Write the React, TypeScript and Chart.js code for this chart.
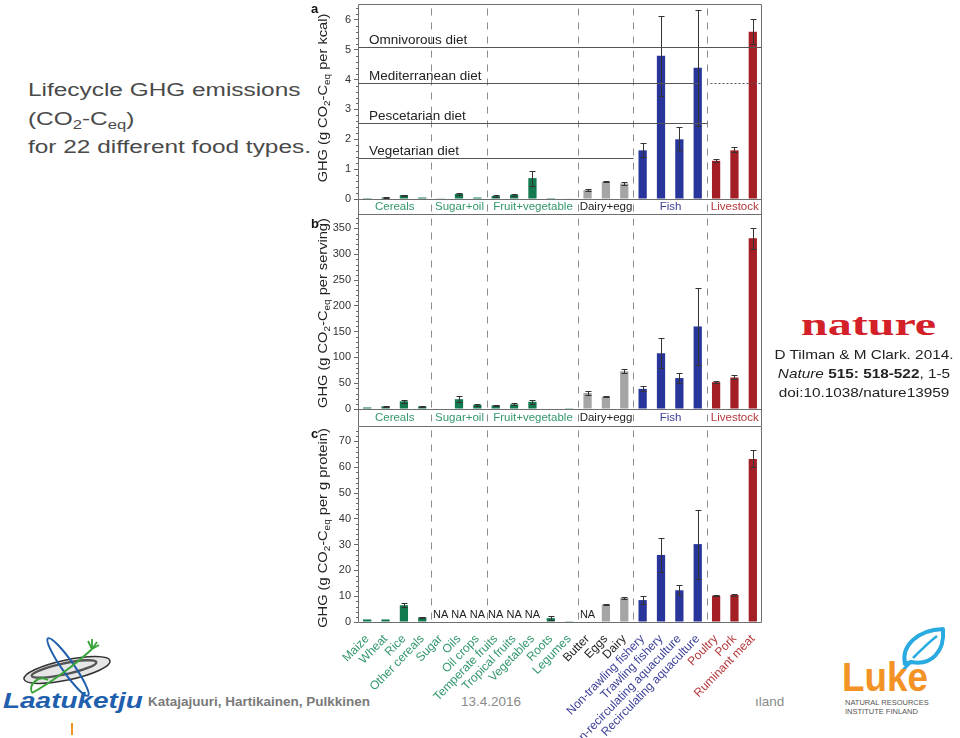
import React, { useEffect, useRef } from 'react';
import { Chart, registerables } from 'chart.js';

Chart.register(...registerables);

const FONT = "'Liberation Sans', Arial, Helvetica, sans-serif";

// ---------------- data ----------------
const FOODS = [
  'Maize', 'Wheat', 'Rice', 'Other cereals',
  'Sugar', 'Oils', 'Oil crops',
  'Temperate fruits', 'Tropical fruits', 'Vegetables', 'Roots', 'Legumes',
  'Butter', 'Eggs', 'Dairy',
  'Non-trawling fishery', 'Trawling fishery', 'Non-recirculating aquaculture', 'Recirculating aquaculture',
  'Poultry', 'Pork', 'Ruminant meat',
];
const GROUPS = ['Cereals', 'Sugar+oil', 'Fruit+vegetable', 'Dairy+egg', 'Fish', 'Livestock'];
const GROUP_SIZES = [4, 3, 5, 3, 4, 3];
const BAR_COLORS = ['#137a4f', '#137a4f', '#137a4f', '#a5a5a5', '#28359b', '#a41f25'];
const LABEL_COLORS = ['#33976b', '#33976b', '#33976b', '#222222', '#3c3f97', '#b3383b'];

// a: per kcal
const KCAL_VALUES = [0.03, 0.05, 0.13, 0.05, 0.01, 0.17, 0.05, 0.10, 0.14, 0.70, 0.03, 0.02, 0.30, 0.58, 0.52, 1.63, 4.80, 2.00, 4.40, 1.28, 1.63, 5.60];
const KCAL_LOW = [null, 0.04, 0.11, null, null, 0.14, null, 0.08, 0.11, 0.45, null, null, 0.27, 0.56, 0.47, 1.40, 3.45, 1.65, 2.45, 1.24, 1.57, 5.20];
const KCAL_HIGH = [null, 0.06, 0.15, null, null, 0.20, null, 0.12, 0.18, 0.95, null, null, 0.33, 0.61, 0.56, 1.88, 6.12, 2.40, 6.32, 1.33, 1.73, 6.03];
const KCAL_AXIS = [6.5, 1, 0.2]; // max, step, minor step

// b: per serving
const SERVING_VALUES = [3, 5, 15, 5, 1, 19, 8, 7, 9, 14, 1, 1.5, 31, 24, 73, 39, 108, 60, 160, 52, 61, 331];
const SERVING_LOW = [null, 4, 12, 4, null, 14, 6, 6, 7, 10, null, null, 27, 23, 70, 34, 80, 50, 85, 50, 58, 310];
const SERVING_HIGH = [null, 6, 17, 6, null, 25, 10, 8, 12, 18, null, null, 35, 25, 77, 45, 138, 70, 235, 54, 65, 351];
const SERVING_AXIS = [376, 50, 10];

// c: per g protein
const PROTEIN_VALUES = [1.0, 1.0, 6.5, 1.8, null, null, null, null, null, null, 1.5, 0.3, null, 6.8, 9.3, 8.5, 26.0, 12.3, 30.2, 10.2, 10.5, 63.2];
const PROTEIN_LOW = [null, null, 5.7, 1.6, null, null, null, null, null, null, 0.9, null, null, 6.6, 9.1, 7.1, 19.3, 10.3, 16.6, 10.0, 10.0, 60.0];
const PROTEIN_HIGH = [null, null, 7.5, 2.0, null, null, null, null, null, null, 2.2, null, null, 7.0, 9.6, 10.1, 32.7, 14.5, 43.6, 10.5, 11.0, 66.5];
const PROTEIN_AXIS = [75.6, 10, 2];

// diet reference lines (panel a)
const DIET_NAMES = ['Omnivorous diet', 'Mediterranean diet', 'Pescetarian diet', 'Vegetarian diet'];
const DIET_VALUES = [5.1, 3.87, 2.55, 1.37];
const DIET_END_GROUP = [6, 5, 5, 4];
const DIET_DOTTED_REST = [false, true, false, false];

const FOOD_GROUP: number[] = [];
GROUP_SIZES.forEach((n, g) => { for (let i = 0; i < n; i++) FOOD_GROUP.push(g); });
const BOUNDS: number[] = [];
GROUP_SIZES.reduce((acc, n) => { BOUNDS.push(acc + n); return acc + n; }, 0);

type Spec = {
  values: (number | null)[];
  low: (number | null)[];
  high: (number | null)[];
  axis: number[];
  strip: number;
  showLabels: boolean;
  diets: boolean;
  na: boolean;
  padTop: number;
  padBottom: number;
  xHeight: number;
};

function makeDeco(spec: Spec) {
  return {
    id: 'deco',
    afterDatasetsDraw(chart: any) {
      const { ctx, chartArea: ca, scales } = chart;
      const x = scales.x;
      const y = scales.y;
      const slot = x.getPixelForValue(1) - x.getPixelForValue(0);
      const bx = (b: number) => Math.round(x.getPixelForValue(b) - slot / 2) + 0.5;
      const L = Math.round(ca.left) + 0.5;
      const R = Math.round(ca.right) - 0.5;
      const T = Math.round(ca.top) - 0.5;
      const B = Math.round(ca.bottom) + 0.5;
      const stripBottom = spec.strip ? chart.height : B;
      ctx.save();

      // separators
      ctx.strokeStyle = '#8c8c8c';
      ctx.lineWidth = 1;
      ctx.setLineDash([7, 7]);
      BOUNDS.slice(0, -1).forEach((b) => {
        const px = bx(b);
        ctx.beginPath();
        ctx.moveTo(px, T + 4);
        ctx.lineTo(px, stripBottom);
        ctx.stroke();
      });
      ctx.setLineDash([]);

      // frame
      ctx.strokeStyle = '#6e6e6e';
      ctx.beginPath();
      ctx.moveTo(L, stripBottom);
      ctx.lineTo(L, T);
      ctx.lineTo(R, T);
      ctx.lineTo(R, stripBottom);
      ctx.moveTo(L, B);
      ctx.lineTo(R, B);
      ctx.stroke();

      // minor ticks
      const [max, step, minor] = spec.axis;
      ctx.strokeStyle = '#666';
      for (let v = minor; v < max; v += minor) {
        const r = v / step;
        if (Math.abs(r - Math.round(r)) < 1e-6) continue;
        const py = Math.round(y.getPixelForValue(v)) + 0.5;
        ctx.beginPath();
        ctx.moveTo(L - 2.5, py);
        ctx.lineTo(L, py);
        ctx.stroke();
      }

      // group labels in strip
      if (spec.strip) {
        ctx.font = `11.5px ${FONT}`;
        ctx.textAlign = 'center';
        ctx.textBaseline = 'middle';
        let start = 0;
        GROUPS.forEach((g, gi) => {
          const end = BOUNDS[gi];
          const x0 = gi === 0 ? ca.left : bx(start);
          const x1 = gi === GROUPS.length - 1 ? ca.right : bx(end);
          ctx.fillStyle = LABEL_COLORS[gi];
          ctx.fillText(g, (x0 + x1) / 2, ca.bottom + spec.strip / 2 + 0.5);
          start = end;
        });
      }

      // error bars
      ctx.strokeStyle = '#333';
      ctx.lineWidth = 1;
      spec.values.forEach((v, i) => {
        const lo = spec.low[i];
        const hi = spec.high[i];
        if (lo == null || hi == null) return;
        const px = Math.round(x.getPixelForValue(i)) + 0.5;
        const y1 = Math.round(y.getPixelForValue(lo)) + 0.5;
        const y2 = Math.round(y.getPixelForValue(hi)) + 0.5;
        ctx.beginPath();
        ctx.moveTo(px, y1);
        ctx.lineTo(px, y2);
        ctx.moveTo(px - 3, y1);
        ctx.lineTo(px + 3, y1);
        ctx.moveTo(px - 3, y2);
        ctx.lineTo(px + 3, y2);
        ctx.stroke();
      });

      // diet lines
      if (spec.diets) {
        ctx.font = `13.5px ${FONT}`;
        ctx.textAlign = 'left';
        ctx.textBaseline = 'alphabetic';
        DIET_NAMES.forEach((name, i) => {
          const py = Math.round(y.getPixelForValue(DIET_VALUES[i])) + 0.5;
          const gEnd = DIET_END_GROUP[i];
          let xEnd = gEnd >= GROUPS.length ? R : bx(BOUNDS[gEnd - 1]);
          if (DIET_DOTTED_REST[i]) xEnd -= 9;
          ctx.strokeStyle = '#555';
          ctx.lineWidth = 1.2;
          ctx.beginPath();
          ctx.moveTo(L, py);
          ctx.lineTo(xEnd, py);
          ctx.stroke();
          if (DIET_DOTTED_REST[i]) {
            ctx.setLineDash([2, 2]);
            ctx.lineWidth = 1;
            ctx.beginPath();
            ctx.moveTo(bx(BOUNDS[gEnd - 1]) + 3, py);
            ctx.lineTo(R, py);
            ctx.stroke();
            ctx.setLineDash([]);
          }
          ctx.fillStyle = '#222';
          ctx.fillText(name, ca.left + 11, py - 4);
        });
      }

      // NA labels
      if (spec.na) {
        ctx.font = `11px ${FONT}`;
        ctx.textAlign = 'center';
        ctx.textBaseline = 'alphabetic';
        ctx.fillStyle = '#222';
        spec.values.forEach((v, i) => {
          if (v != null) return;
          ctx.fillText('NA', x.getPixelForValue(i), ca.bottom - 4);
        });
      }
      ctx.restore();
    },
  };
}

function buildConfig(spec: Spec): any {
  const [max, step] = spec.axis;
  return {
    type: 'bar',
    data: {
      labels: FOODS,
      datasets: [{
        data: spec.values,
        backgroundColor: FOOD_GROUP.map((g) => BAR_COLORS[g]),
        borderWidth: 0,
        barPercentage: 0.45,
        categoryPercentage: 1,
      }],
    },
    options: {
      animation: false,
      responsive: false,
      maintainAspectRatio: false,
      layout: { padding: { left: 0, right: 8, top: spec.padTop, bottom: spec.padBottom } },
      plugins: { legend: { display: false }, tooltip: { enabled: false } },
      scales: {
        x: {
          type: 'category',
          offset: true,
          display: spec.showLabels,
          grid: { display: false },
          border: { display: false },
          ticks: {
            autoSkip: false,
            minRotation: 46,
            maxRotation: 46,
            padding: 2,
            font: { family: FONT, size: 12 },
            color: (c: any) => LABEL_COLORS[FOOD_GROUP[c.index]],
          },
          afterFit: (s: any) => { s.height = spec.xHeight; s.paddingLeft = 0; s.paddingRight = 0; },
        },
        y: {
          min: 0,
          max,
          grid: { display: true, drawOnChartArea: false, drawTicks: true, tickLength: 4, color: '#666' },
          border: { display: false },
          ticks: { stepSize: step, includeBounds: false, padding: 3, color: '#333', font: { family: FONT, size: 11 } },
          afterFit: (s: any) => { s.width = 58; s.paddingTop = 0; s.paddingBottom = 0; },
        },
      },
    },
    plugins: [makeDeco(spec)],
  };
}

const SPEC_A: Spec = { values: KCAL_VALUES, low: KCAL_LOW, high: KCAL_HIGH, axis: KCAL_AXIS, strip: 15, showLabels: false, diets: true, na: false, padTop: 5, padBottom: 16, xHeight: 0 };
const SPEC_B: Spec = { values: SERVING_VALUES, low: SERVING_LOW, high: SERVING_HIGH, axis: SERVING_AXIS, strip: 17, showLabels: false, diets: false, na: false, padTop: 1, padBottom: 17, xHeight: 0 };
const SPEC_C: Spec = { values: PROTEIN_VALUES, low: PROTEIN_LOW, high: PROTEIN_HIGH, axis: PROTEIN_AXIS, strip: 0, showLabels: true, diets: false, na: true, padTop: 1, padBottom: 0, xHeight: 116 };

function Panel({ spec, top, height }: { spec: Spec; top: number; height: number }) {
  const ref = useRef<HTMLCanvasElement>(null);
  useEffect(() => {
    const chart = new Chart(ref.current as HTMLCanvasElement, buildConfig(spec));
    return () => chart.destroy();
  }, []);
  return <canvas ref={ref} width={470} height={height} style={{ position: 'absolute', left: 300, top, width: 470, height }} />;
}

const subStyle: React.CSSProperties = { fontSize: '68%', verticalAlign: '-0.32em', lineHeight: 0 };

function YTitle({ unit, cy }: { unit: string; cy: number }) {
  return (
    <div style={{
      position: 'absolute', left: 323, top: cy, transform: 'translate(-50%, -50%) rotate(-90deg) scaleX(1.17)',
      whiteSpace: 'nowrap', fontFamily: FONT, fontSize: 12.5, color: '#222', lineHeight: '14px',
    }}>
      GHG (g CO<sub style={subStyle}>2</sub>-C<sub style={subStyle}>eq</sub> {unit})
    </div>
  );
}

function Letter({ ch, top }: { ch: string; top: number }) {
  return <div style={{ position: 'absolute', left: 311, top, fontFamily: FONT, fontWeight: 'bold', fontSize: 13, lineHeight: '13px', color: '#111' }}>{ch}</div>;
}

export default function App() {
  return (
    <div style={{ position: 'absolute', left: 0, top: 0, width: 960, height: 738, overflow: 'hidden', background: '#fff' }}>
      {/* slide title */}
      <div style={{
        position: 'absolute', left: 28, top: 76, fontFamily: FONT, fontSize: 18, lineHeight: '28.5px',
        color: '#4a4a4a', transform: 'scaleX(1.355)', transformOrigin: '0 0', whiteSpace: 'nowrap',
      }}>
        Lifecycle GHG emissions<br />(CO<sub style={subStyle}>2</sub>-C<sub style={subStyle}>eq</sub>)<br />for 22 different food types.
      </div>

      {/* footer text (behind chart) */}
      <div style={{ position: 'absolute', left: 148, top: 695, fontFamily: FONT, fontWeight: 'bold', fontSize: 13.5, lineHeight: '13.5px', color: '#7a7a7a', whiteSpace: 'nowrap' }}>
        Katajajuuri, Hartikainen, Pulkkinen
      </div>
      <div style={{ position: 'absolute', left: 461, top: 695, fontFamily: FONT, fontSize: 13.5, lineHeight: '13.5px', color: '#8a8a8a' }}>13.4.2016</div>
      <div style={{ position: 'absolute', left: 755, top: 695, fontFamily: FONT, fontSize: 13.5, lineHeight: '13.5px', color: '#8a8a8a' }}>ıland</div>

      {/* charts */}
      <Panel spec={SPEC_A} top={0} height={215} />
      <Panel spec={SPEC_B} top={214} height={212} />
      <Panel spec={SPEC_C} top={426} height={312} />

      <Letter ch="a" top={2} />
      <Letter ch="b" top={217} />
      <Letter ch="c" top={427} />
      <YTitle unit="per kcal" cy={98} />
      <YTitle unit="per serving" cy={313} />
      <YTitle unit="per g protein" cy={528} />

      {/* nature citation */}
      <div style={{ position: 'absolute', left: 801, top: 308, fontFamily: "'Liberation Serif', 'Times New Roman', serif", fontWeight: 'bold', fontSize: 32, lineHeight: '32px', color: '#d42029', transform: 'scaleX(1.5)', transformOrigin: '0 0' }}>nature</div>
      <div style={{
        position: 'absolute', left: 764, top: 345, width: 200, textAlign: 'center', fontFamily: FONT, fontSize: 13,
        lineHeight: '19px', color: '#222', transform: 'scaleX(1.18)', transformOrigin: '50% 0', whiteSpace: 'nowrap',
      }}>
        D Tilman &amp; M Clark. 2014.<br />
        <i>Nature</i> <b>515: 518-522</b>, 1-5<br />
        doi:10.1038/nature13959
      </div>

      {/* Laatuketju logo */}
      <svg style={{ position: 'absolute', left: 0, top: 625 }} width={150} height={115}>
        <ellipse cx={67} cy={45} rx={44} ry={10} transform="rotate(-12 67 45)" fill="#e6e6e6" stroke="#333" strokeWidth={1.5} />
        <ellipse cx={64} cy={44} rx={33} ry={5.5} transform="rotate(-12 64 44)" fill="none" stroke="#555" strokeWidth={2.5} />
        <ellipse cx={68} cy={42} rx={35} ry={6} transform="rotate(55 68 42)" fill="none" stroke="#1f5fae" strokeWidth={2} />
        <path d="M32 68 C 50 58, 75 40, 92 24" fill="none" stroke="#3aa43a" strokeWidth={2} />
        <path d="M32 68 C 28 58, 40 50, 48 55" fill="none" stroke="#3aa43a" strokeWidth={2} />
        <path d="M92 24 L 88 16 M92 24 L 92 14 M92 24 L 97 17 M92 24 L 99 20" fill="none" stroke="#3aa43a" strokeWidth={1.8} />
        <line x1={72} y1={98} x2={72} y2={110} stroke="#f39325" strokeWidth={2} />
      </svg>
      <div style={{
        position: 'absolute', left: 3, top: 690, fontFamily: FONT, fontWeight: 'bold', fontStyle: 'italic', fontSize: 22,
        lineHeight: '22px', color: '#1f5fae', transform: 'scaleX(1.27)', transformOrigin: '0 0', whiteSpace: 'nowrap',
      }}>Laatuketju</div>

      {/* Luke logo */}
      <svg style={{ position: 'absolute', left: 895, top: 624 }} width={55} height={50}>
        <path d="M10 40 C 6 22, 22 6, 48 5 C 50 28, 36 42, 16 38 Z" fill="none" stroke="#29abe2" strokeWidth={4} strokeLinejoin="round" />
        <path d="M16 38 L 8 46" stroke="#29abe2" strokeWidth={3} />
        <path d="M18 34 C 26 26, 34 18, 42 12" fill="none" stroke="#29abe2" strokeWidth={2.5} />
      </svg>
      <div style={{ position: 'absolute', left: 842, top: 657, fontFamily: FONT, fontWeight: 'bold', fontSize: 40, lineHeight: '40px', color: '#f39325', transform: 'scaleX(0.92)', transformOrigin: '0 0' }}>Luke</div>
      <div style={{ position: 'absolute', left: 845, top: 698, fontFamily: FONT, fontSize: 7.5, lineHeight: '9px', color: '#555', whiteSpace: 'nowrap' }}>
        NATURAL RESOURCES<br />INSTITUTE FINLAND
      </div>
    </div>
  );
}
